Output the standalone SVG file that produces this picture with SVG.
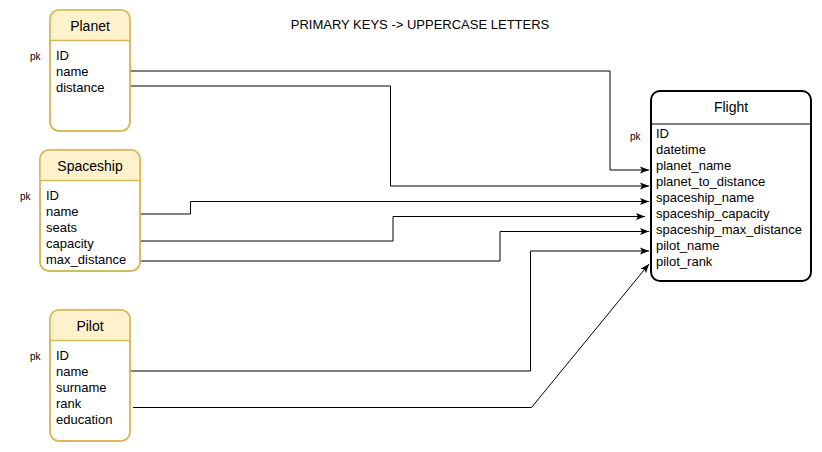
<svg xmlns="http://www.w3.org/2000/svg" width="822" height="452" viewBox="0 0 822 452">
<defs>
<style>
text{font-family:"Liberation Sans",Arial,sans-serif;fill:#000}
.t{font-size:14px;text-anchor:middle}
.r{font-size:13px}
.pk{font-size:10px}
.ent{fill:#fff;stroke:#d6b656;stroke-width:1.5}
.hdr{fill:#fff2cc;stroke:none}
.sep{stroke:#d6b656;stroke-width:1.5}
.fl{fill:#fff;stroke:#000;stroke-width:2}
.c{fill:none;stroke:#000;stroke-width:1}
</style>
<marker id="a" markerUnits="userSpaceOnUse" markerWidth="10" markerHeight="8" refX="9" refY="4" orient="auto">
<path d="M0,0.5 L9,4 L0,7.5 L2,4 Z" fill="#000"/>
</marker>
<clipPath id="cp1"><rect x="50" y="10" width="80" height="121" rx="9"/></clipPath>
<clipPath id="cp2"><rect x="40" y="150" width="100" height="121" rx="9"/></clipPath>
<clipPath id="cp3"><rect x="50" y="310" width="80" height="131" rx="9"/></clipPath>
</defs>
<rect width="822" height="452" fill="#fff"/>
<text class="r" x="420" y="29" text-anchor="middle">PRIMARY KEYS -&gt; UPPERCASE LETTERS</text>
<g id="connectors">
<path class="c" d="M130,65 V71 H610 V170 H649" marker-end="url(#a)"/>
<path class="c" d="M130,86 H390.5 V186 H649" marker-end="url(#a)"/>
<path class="c" d="M140,214 H190.5 V201.5 H649" marker-end="url(#a)"/>
<path class="c" d="M140,241 H393 V216.5 H645" marker-end="url(#a)"/>
<path class="c" d="M140,261 H500 V231.5 H649" marker-end="url(#a)"/>
<path class="c" d="M130,365 V371 H530.5 V251 H649" marker-end="url(#a)"/>
<path class="c" d="M133,407.5 H531.5 L649,264" marker-end="url(#a)"/>
</g>
<g id="planet">
<rect class="ent" x="50" y="10" width="80" height="121" rx="9"/>
<rect class="hdr" x="50" y="10" width="80" height="30" clip-path="url(#cp1)"/>
<rect x="50" y="10" width="80" height="121" rx="9" fill="none" stroke="#d6b656" stroke-width="1.5"/>
<line class="sep" x1="50" y1="40.5" x2="130" y2="40.5"/>
<text class="t" x="90" y="31">Planet</text>
<text class="pk" x="30" y="60">pk</text>
<text class="r" x="56" y="60">ID</text>
<text class="r" x="56" y="76">name</text>
<text class="r" x="56" y="92">distance</text>
</g>
<g id="spaceship">
<rect class="ent" x="40" y="150" width="100" height="121" rx="9"/>
<rect class="hdr" x="40" y="150" width="100" height="30" clip-path="url(#cp2)"/>
<rect x="40" y="150" width="100" height="121" rx="9" fill="none" stroke="#d6b656" stroke-width="1.5"/>
<line class="sep" x1="40" y1="180.5" x2="140" y2="180.5"/>
<text class="t" x="90" y="171">Spaceship</text>
<text class="pk" x="20" y="200">pk</text>
<text class="r" x="46" y="200">ID</text>
<text class="r" x="46" y="216">name</text>
<text class="r" x="46" y="232">seats</text>
<text class="r" x="46" y="248">capacity</text>
<text class="r" x="46" y="264">max_distance</text>
</g>
<g id="pilot">
<rect class="ent" x="50" y="310" width="80" height="131" rx="9"/>
<rect class="hdr" x="50" y="310" width="80" height="30" clip-path="url(#cp3)"/>
<rect x="50" y="310" width="80" height="131" rx="9" fill="none" stroke="#d6b656" stroke-width="1.5"/>
<line class="sep" x1="50" y1="340.5" x2="130" y2="340.5"/>
<text class="t" x="90" y="331">Pilot</text>
<text class="pk" x="30" y="360">pk</text>
<text class="r" x="56" y="360">ID</text>
<text class="r" x="56" y="376">name</text>
<text class="r" x="56" y="392">surname</text>
<text class="r" x="56" y="408">rank</text>
<text class="r" x="56" y="424">education</text>
</g>
<g id="flight">
<rect class="fl" x="651" y="91" width="160" height="190" rx="9"/>
<line x1="651" y1="124" x2="811" y2="124" stroke="#000" stroke-width="1"/>
<text class="t" x="731" y="112">Flight</text>
<text class="pk" x="630" y="140">pk</text>
<text class="r" x="656" y="138">ID</text>
<text class="r" x="656" y="154">datetime</text>
<text class="r" x="656" y="170">planet_name</text>
<text class="r" x="656" y="186">planet_to_distance</text>
<text class="r" x="656" y="202">spaceship_name</text>
<text class="r" x="656" y="218">spaceship_capacity</text>
<text class="r" x="656" y="234">spaceship_max_distance</text>
<text class="r" x="656" y="250">pilot_name</text>
<text class="r" x="656" y="266">pilot_rank</text>
</g>
</svg>
